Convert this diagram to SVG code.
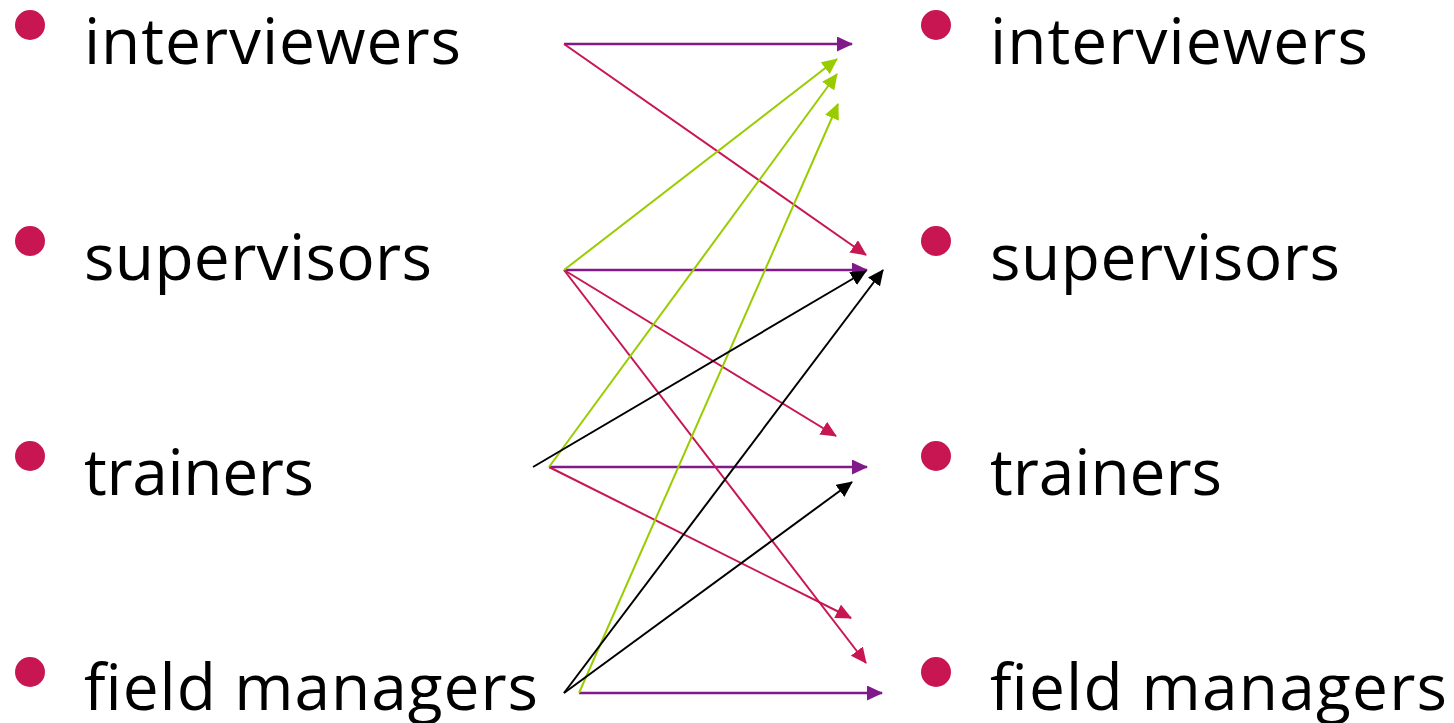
<svg xmlns="http://www.w3.org/2000/svg" width="1454" height="723" viewBox="0 0 1454 723">
<style>
.lbl{font-family:"Open Sans","Liberation Sans",sans-serif;font-size:64px;fill:#000}
.dot{fill:#C71652}
.pu{stroke:#80198A;stroke-width:2.5;fill:none;marker-end:url(#ap)}
.cr{stroke:#C71652;stroke-width:2;fill:none;marker-end:url(#ac)}
.gr{stroke:#99CC00;stroke-width:2;fill:none;marker-end:url(#ag)}
.bk{stroke:#000;stroke-width:2;fill:none;marker-end:url(#ab)}
</style>
<defs>
<marker id="ap" viewBox="0 0 16 15" refX="15" refY="7.5" markerWidth="16" markerHeight="15" markerUnits="userSpaceOnUse" orient="auto"><path d="M0,0 L16,7.5 L0,15 z" fill="#80198A"/></marker>
<marker id="ac" viewBox="0 0 16 15" refX="15" refY="7.5" markerWidth="16" markerHeight="15" markerUnits="userSpaceOnUse" orient="auto"><path d="M0,0 L16,7.5 L0,15 z" fill="#C71652"/></marker>
<marker id="ag" viewBox="0 0 16 15" refX="15" refY="7.5" markerWidth="16" markerHeight="15" markerUnits="userSpaceOnUse" orient="auto"><path d="M0,0 L16,7.5 L0,15 z" fill="#99CC00"/></marker>
<marker id="ab" viewBox="0 0 16 15" refX="15" refY="7.5" markerWidth="16" markerHeight="15" markerUnits="userSpaceOnUse" orient="auto"><path d="M0,0 L16,7.5 L0,15 z" fill="#000"/></marker>
</defs>
<g id="left-interviewers"><circle class="dot" cx="30" cy="25" r="15"/><text class="lbl" x="84" y="64" textLength="377">interviewers</text></g>
<g id="left-supervisors"><circle class="dot" cx="30" cy="241" r="15"/><text class="lbl" x="84" y="280" textLength="348">supervisors</text></g>
<g id="left-trainers"><circle class="dot" cx="30" cy="456" r="15"/><text class="lbl" x="84" y="495" textLength="230">trainers</text></g>
<g id="left-field-managers"><circle class="dot" cx="30" cy="672" r="15"/><text class="lbl" x="84" y="710" textLength="454">field managers</text></g>
<g id="right-interviewers"><circle class="dot" cx="936" cy="25" r="15"/><text class="lbl" x="990" y="64" textLength="378">interviewers</text></g>
<g id="right-supervisors"><circle class="dot" cx="936" cy="241" r="15"/><text class="lbl" x="990" y="280" textLength="350">supervisors</text></g>
<g id="right-trainers"><circle class="dot" cx="936" cy="456" r="15"/><text class="lbl" x="990" y="495" textLength="232">trainers</text></g>
<g id="right-field-managers"><circle class="dot" cx="936" cy="672" r="15"/><text class="lbl" x="990" y="710" textLength="457">field managers</text></g>
<g id="connectors">
<line class="pu" x1="564" y1="44" x2="852" y2="44"/>
<line class="pu" x1="564" y1="270" x2="867" y2="270"/>
<line class="pu" x1="549" y1="467" x2="867" y2="467"/>
<line class="pu" x1="579" y1="693" x2="882" y2="693"/>
<line class="cr" x1="564" y1="44" x2="866" y2="255"/>
<line class="cr" x1="564" y1="270" x2="836" y2="436"/>
<line class="cr" x1="564" y1="270" x2="866" y2="663"/>
<line class="cr" x1="549" y1="467" x2="851" y2="618"/>
<line class="gr" x1="564" y1="270" x2="837" y2="59"/>
<line class="gr" x1="549" y1="467" x2="837" y2="74"/>
<line class="gr" x1="579" y1="693" x2="838" y2="104"/>
<line class="bk" x1="533" y1="467" x2="866" y2="271"/>
<line class="bk" x1="564" y1="693" x2="883" y2="270"/>
<line class="bk" x1="564" y1="693" x2="852" y2="482"/>
</g>
</svg>
